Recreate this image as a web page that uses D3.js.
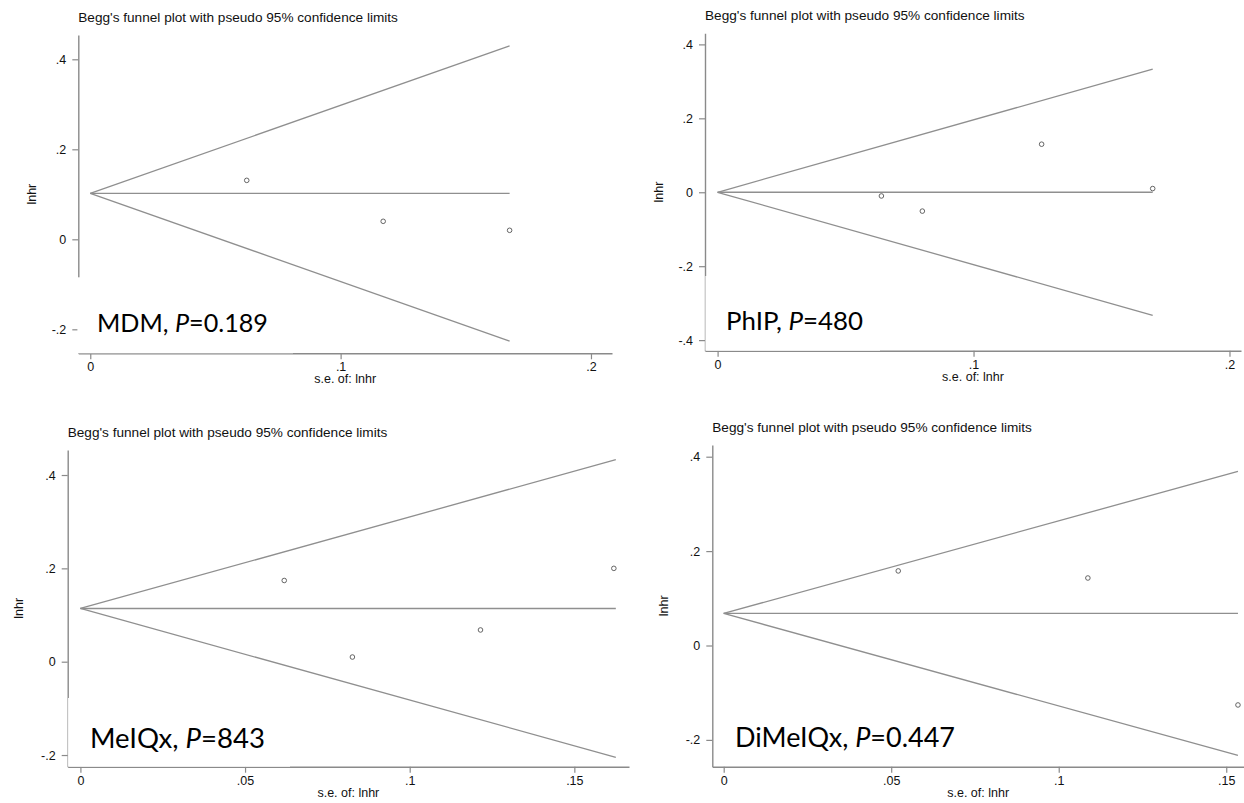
<!DOCTYPE html>
<html><head><meta charset="utf-8">
<script src="https://cdn.jsdelivr.net/npm/d3@7"></script>
<style>body{margin:0;background:#fff}svg{display:block}</style>
</head><body>
<svg id="c" width="1244" height="803"></svg>
<script>
// ---------- data ----------
const titleText = "Begg's funnel plot with pseudo 95% confidence limits";
const xAxisTitle = "s.e. of: lnhr";
const yAxisTitle = "lnhr";

const markerNames = ["MDM", "PhIP", "MeIQx", "DiMeIQx"];
const pValues = ["0.189", "480", "843", "0.447"];

// pooled estimate (apex of funnel)
const pooled = [0.102, 0, 0.114, 0.068];
// funnel end (largest s.e.) and limit values there
const funnelSE = [0.1675, 0.170, 0.1626, 0.1535];
const upperEnd = [0.430, 0.333, 0.433, 0.369];
const lowerEnd = [-0.226, -0.333, -0.205, -0.233];

// studies
const seMDM = [0.0625, 0.117, 0.1675];
const lnhrMDM = [0.131, 0.04, 0.02];
const sePhIP = [0.064, 0.080, 0.1266, 0.170];
const lnhrPhIP = [-0.01, -0.051, 0.13, 0.01];
const seMeIQx = [0.0619, 0.0826, 0.1215, 0.1620];
const lnhrMeIQx = [0.174, 0.01, 0.068, 0.2];
const seDiMeIQx = [0.0521, 0.1087, 0.1535];
const lnhrDiMeIQx = [0.158, 0.143, -0.126];
const seAll = [seMDM, sePhIP, seMeIQx, seDiMeIQx];
const lnhrAll = [lnhrMDM, lnhrPhIP, lnhrMeIQx, lnhrDiMeIQx];

// axis extents and ticks
const xDomains = [[-0.00478, 0.2084], [-0.00492, 0.2045], [-0.00386, 0.1666], [-0.0034, 0.1553]];
const yDomains = [[-0.2533, 0.454], [-0.4286, 0.430], [-0.225, 0.4536], [-0.2568, 0.4248]];
const xTicks = [[0, 0.1, 0.2], [0, 0.1, 0.2], [0, 0.05, 0.1, 0.15], [0, 0.05, 0.1, 0.15]];
const xTickLabels = [["0", ".1", ".2"], ["0", ".1", ".2"], ["0", ".05", ".1", ".15"], ["0", ".05", ".1", ".15"]];
const yTicks = [[-0.2, 0, 0.2, 0.4], [-0.4, -0.2, 0, 0.2, 0.4], [-0.2, 0, 0.2, 0.4], [-0.2, 0, 0.2, 0.4]];
const yTickLabels = [["-.2", "0", ".2", ".4"], ["-.4", "-.2", "0", ".2", ".4"], ["-.2", "0", ".2", ".4"], ["-.2", "0", ".2", ".4"]];

// ---------- layout ----------
const layout = [
  {x0: 78.3, x1: 612, y0: 35, y1: 353.3, yTitleX: 36, box: [77.4, 277.3, 293, 353.3], ann: [97, 331.7], annW: 171},
  {x0: 705, x1: 1241, y0: 33.3, y1: 350.7, yTitleX: 663, box: [705.4, 276, 880, 350.7], ann: [726, 330], annW: 137},
  {x0: 67.7, x1: 629, y0: 450, y1: 766.7, yTitleX: 23, box: [68.1, 698, 290, 766.7], ann: [90, 748.3], annW: 175},
  {x0: 712.3, x1: 1244, y0: 445, y1: 766.7, yTitleX: 668, box: null, ann: [735, 746.7], annW: 220}
];

const svg = d3.select("#c");
const AX = "#8a8a8a", FUN = "#8f8f8f", TXT = "#111";
const tickFont = "Liberation Sans, Arial, sans-serif";

// fit title font size
const probe = svg.append("text").attr("font-family", tickFont).attr("font-size", 100)
  .text("Begg's funnel plot with pseudo 95% con");
const titleSize = 100 * 241 / probe.node().getComputedTextLength();
probe.remove();

const annFont = "Lato, 'Open Sans', sans-serif";
function annText(g, i, size) {
  const t = g.append("text").attr("font-family", annFont).attr("font-size", size).attr("fill", "#000");
  t.append("tspan").text(markerNames[i] + ", ");
  t.append("tspan").attr("font-style", "italic").text("P");
  t.append("tspan").text("=" + pValues[i]);
  return t;
}
// fit annotation sizes
const annSizes = layout.map((L, i) => {
  const t = annText(svg, i, 100);
  const w = t.node().getComputedTextLength();
  t.remove();
  return 100 * L.annW / w;
});

layout.forEach((L, i) => {
  const x = d3.scaleLinear().domain(xDomains[i]).range([L.x0, L.x1]);
  const y = d3.scaleLinear().domain(yDomains[i]).range([L.y1, L.y0]);
  const g = svg.append("g");

  // title
  g.append("text").attr("x", L.x0).attr("y", L.y0 - 13)
    .attr("font-family", tickFont).attr("font-size", titleSize).attr("fill", TXT)
    .text(titleText);

  // funnel
  const lines = [
    [0, pooled[i], funnelSE[i], upperEnd[i]],
    [0, pooled[i], funnelSE[i], lowerEnd[i]],
    [0, pooled[i], funnelSE[i], pooled[i]]
  ];
  g.selectAll("line.f").data(lines).join("line").attr("class", "f")
    .attr("x1", d => x(d[0])).attr("y1", d => y(d[1]))
    .attr("x2", d => x(d[2])).attr("y2", d => y(d[3]))
    .attr("stroke", FUN).attr("stroke-width", 1.3);

  // studies
  g.selectAll("circle").data(seAll[i].map((s, j) => [s, lnhrAll[i][j]])).join("circle")
    .attr("cx", d => x(d[0])).attr("cy", d => y(d[1])).attr("r", 2.3)
    .attr("fill", "none").attr("stroke", "#555").attr("stroke-width", 0.9);

  // axes
  const ya = d3.axisLeft(y).tickValues(yTicks[i]).tickFormat((d, j) => yTickLabels[i][j])
    .tickSize(6).tickSizeOuter(0).tickPadding(6);
  const xa = d3.axisBottom(x).tickValues(xTicks[i]).tickFormat((d, j) => xTickLabels[i][j])
    .tickSize(6).tickSizeOuter(0).tickPadding(3);
  const gy = g.append("g").attr("transform", `translate(${L.x0},0)`).call(ya);
  const gx = g.append("g").attr("transform", `translate(0,${L.y1})`).call(xa);
  [gy, gx].forEach(a => {
    a.select(".domain").attr("stroke", AX).attr("stroke-width", 1.4);
    a.selectAll(".tick line").attr("stroke", AX).attr("stroke-width", 1.2);
    a.selectAll(".tick text").attr("font-family", tickFont).attr("font-size", 12.5).attr("fill", TXT);
  });

  // axis titles
  g.append("text").attr("x", (L.x0 + L.x1) / 2).attr("y", L.y1 + 30)
    .attr("text-anchor", "middle").attr("font-family", tickFont).attr("font-size", 12.5).attr("fill", TXT)
    .text(xAxisTitle);
  g.append("text").attr("transform", `translate(${L.yTitleX},${(L.y0 + L.y1) / 2}) rotate(-90)`)
    .attr("text-anchor", "middle").attr("font-family", tickFont).attr("font-size", 12.5).attr("fill", TXT)
    .text(yAxisTitle);

  // white annotation box
  if (L.box) {
    g.append("rect").attr("x", L.box[0]).attr("y", L.box[1])
      .attr("width", L.box[2] - L.box[0]).attr("height", L.box[3] - L.box[1]).attr("fill", "#fff");
  }
  const t = annText(g, i, annSizes[i]);
  t.attr("x", L.ann[0]).attr("y", L.ann[1]);
});
</script>
</body></html>
